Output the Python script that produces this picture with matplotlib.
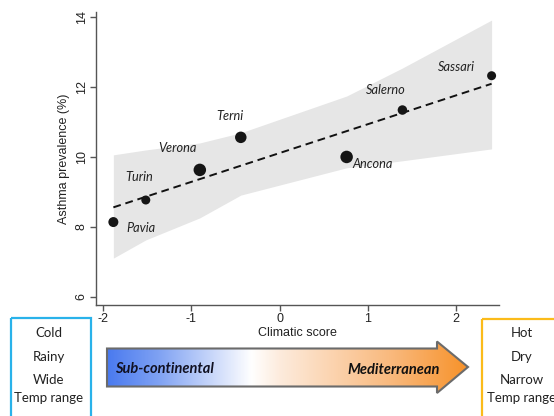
import numpy as np
import matplotlib
matplotlib.use('Agg')
import matplotlib.pyplot as plt
from matplotlib.patches import Polygon, Rectangle
from matplotlib.colors import LinearSegmentedColormap

plt.rcParams['font.family'] = ['Liberation Sans', 'DejaVu Sans']

# city data: climatic score vs asthma prevalence (%)
cities = ['Pavia', 'Turin', 'Verona', 'Terni', 'Ancona', 'Salerno', 'Sassari']
score = [-1.886, -1.518, -0.905, -0.44, 0.761, 1.394, 2.406]
prevalence = [8.14, 8.77, 9.63, 10.56, 10.0, 11.34, 12.32]

# fitted line and confidence band, read at the city scores
fit_x = [-1.886, 2.406]
fit_y = [8.56, 12.09]
band_x = [-1.886, -1.518, -0.905, -0.44, 0.761, 1.394, 2.406]
band_lo = [7.11, 7.63, 8.26, 8.91, 9.69, 9.89, 10.23]
band_hi = [10.06, 10.2, 10.4, 10.69, 11.74, 12.54, 13.91]

x_ticks = [-2, -1, 0, 1, 2]
y_ticks = [6, 8, 10, 12, 14]

# style only
marker_px = [10, 9, 12.5, 11.5, 12.5, 9.5, 9]
label_off = [(13, -6), (-20, 23), (-42, 22), (-24, 21), (6, -7), (-36, 20), (-54, 9)]

W, H = 554, 416
fig = plt.figure(figsize=(W / 100, H / 100), dpi=100)
ax = fig.add_axes([96 / W, (H - 305) / H, (499 - 96) / W, (305 - 12) / H])

ax.fill_between(band_x, band_lo, band_hi, color='#e6e6e6', lw=0, zorder=1)
ax.plot(fit_x, fit_y, color='#111111', ls=(0, (4, 2.5)), lw=1.4, zorder=2)
ax.scatter(score, prevalence, s=[(d * 0.72) ** 2 for d in marker_px],
           color='#151515', zorder=3, lw=0)
for name, x, y, off in zip(cities, score, prevalence, label_off):
    ax.annotate(name, (x, y), xytext=off, textcoords='offset pixels',
                ha='left', va='center', fontsize=9.2, style='italic',
                family='Lato', color='#222222')

ax.set_xlim(-2.083, 2.49)
ax.set_ylim(5.771, 14.14)
ax.set_xticks(x_ticks)
ax.set_yticks(y_ticks)
ax.set_xticklabels([str(t) for t in x_ticks])
ax.set_yticklabels([str(t) for t in y_ticks], rotation=90, va='center')
for s in ['top', 'right']:
    ax.spines[s].set_visible(False)
for s in ['left', 'bottom']:
    ax.spines[s].set_color('#555555')
    ax.spines[s].set_linewidth(1.0)
ax.tick_params(colors='#555555', labelcolor='#222222', length=4, width=1,
               labelsize=9, pad=2)
ax.set_xlabel('Climatic score', fontsize=9, color='#222222', labelpad=1)
ax.set_ylabel('Asthma prevalence (%)', fontsize=9, color='#222222', labelpad=4)
ax.patch.set_alpha(0)

# bottom legend area in pixel coordinates
ov = fig.add_axes([0, 0, 1, 1], zorder=-1)
ov.set_xlim(0, W)
ov.set_ylim(H, 0)
ov.axis('off')

ov.add_patch(Rectangle((10.7, 317.5), 80, 110, fill=False, ec='#29b2ea', lw=1.6))
ov.add_patch(Rectangle((482, 318.5), 90, 110, fill=False, ec='#fbbb1a', lw=1.6))
for txt, y in zip(['Cold', 'Rainy', 'Wide', 'Temp range'], [332.7, 356.7, 380, 397.7]):
    ov.text(49, y, txt, ha='center', va='center', fontsize=9.5, family='Lato', color='#222222')
for txt, y in zip(['Hot', 'Dry', 'Narrow', 'Temp range'], [333, 357, 380, 397.5]):
    ov.text(522, y, txt, ha='center', va='center', fontsize=9.5, family='Lato', color='#222222')

arrow = [(107, 348.5), (437, 348.5), (437, 341.5), (468, 367), (437, 393), (437, 386.5), (107, 386.5)]
cmap = LinearSegmentedColormap.from_list('clim', [
    (0.0, '#4a7aef'), (0.14, '#7ea1f3'), (0.4, '#ffffff'), (0.48, '#fdebdc'),
    (0.8, '#f9b779'), (1.0, '#f7922a')])
grad = np.linspace(0, 1, 256).reshape(1, -1)
im = ov.imshow(grad, cmap=cmap, extent=(107, 468, 393, 341.5), aspect='auto')
poly = Polygon(arrow, closed=True, fc='none', ec='#6b6b6b', lw=1.5)
ov.add_patch(poly)
im.set_clip_path(poly)
ov.set_xlim(0, W)
ov.set_ylim(H, 0)
ov.text(115.5, 369, 'Sub-continental', ha='left', va='center', fontsize=10.5,
        weight='bold', style='italic', family='Lato', color='#111122')
ov.text(440, 370, 'Mediterranean', ha='right', va='center', fontsize=10.5,
        weight='bold', style='italic', family='Lato', color='#111111')

fig.savefig('out.png', dpi=100)
